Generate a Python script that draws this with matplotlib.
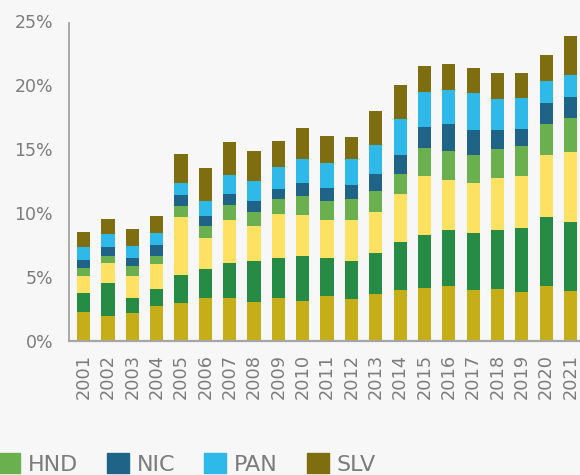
import matplotlib.pyplot as plt
from matplotlib.patches import Patch
from matplotlib.ticker import FuncFormatter

# data (shares in %)
years = [str(y) for y in range(2001, 2022)]
series = ['CRI', 'DOM', 'GTM', 'HND', 'NIC', 'PAN', 'SLV']
cri = [2.23, 1.91, 2.15, 2.70, 2.93, 3.32, 3.32, 3.01, 3.32, 3.09, 3.48,
       3.24, 3.63, 3.95, 4.10, 4.26, 3.95, 4.02, 3.79, 4.26, 3.87]
dom = [1.48, 2.58, 1.17, 1.32, 2.19, 2.27, 2.73, 3.20, 3.13, 3.51, 2.97,
       2.97, 3.21, 3.75, 4.14, 4.37, 4.45, 4.61, 5.00, 5.39, 5.39]
gtm = [1.33, 1.56, 1.72, 1.96, 4.53, 2.42, 3.36, 2.74, 3.43, 3.20, 2.96,
       3.20, 3.20, 3.75, 4.61, 3.91, 3.90, 4.07, 4.06, 4.84, 5.47]
hnd = [0.62, 0.55, 0.78, 0.62, 0.86, 0.94, 1.18, 1.09, 1.17, 1.49, 1.49,
       1.64, 1.64, 1.56, 2.19, 2.26, 2.19, 2.26, 2.35, 2.42, 2.65]
nic = [0.63, 0.70, 0.63, 0.86, 0.86, 0.78, 0.86, 0.86, 0.79, 1.01, 1.01,
       1.10, 1.33, 1.48, 1.64, 2.11, 1.96, 1.49, 1.32, 1.64, 1.64]
pan = [1.01, 1.02, 0.93, 0.94, 0.93, 1.17, 1.48, 1.56, 1.71, 1.88, 1.96,
       2.03, 2.26, 2.81, 2.73, 2.66, 2.89, 2.42, 2.43, 1.72, 1.72]
slv = [1.18, 1.17, 1.33, 1.33, 2.27, 2.58, 2.58, 2.34, 2.04, 2.42, 2.11,
       1.72, 2.66, 2.66, 2.04, 2.03, 1.95, 2.03, 1.95, 2.03, 3.05]
colors = ['#c5ae18', '#268b45', '#fde162', '#6ab04f', '#1f6387', '#2fb9e8', '#7f6e10']

bg = '#f7f7f7'
grey = '#7c7c7c'

fig = plt.figure(figsize=(5.8, 4.75), dpi=100, facecolor=bg)
ax = fig.add_axes([69/580, 134.5/475, (585.1 - 69)/580, 320/475])
ax.set_facecolor(bg)

x = range(len(years))
bottom = [0.0] * len(years)
for vals, col in zip([cri, dom, gtm, hnd, nic, pan, slv], colors):
    ax.bar(x, vals, bottom=bottom, width=0.54, color=col, linewidth=0)
    bottom = [b + v for b, v in zip(bottom, vals)]

ax.set_xlim(-0.6, 20.6)
ax.set_ylim(0, 25)
ax.set_yticks([0, 5, 10, 15, 20, 25])
ax.yaxis.set_major_formatter(FuncFormatter(lambda v, p: '%d%%' % v))
ax.set_xticks(list(x))
ax.set_xticklabels(years, rotation=90)
ax.tick_params(axis='x', length=0, pad=9.5, labelsize=12.8, labelcolor=grey)
ax.tick_params(axis='y', length=0, pad=11.5, labelsize=12.5, labelcolor=grey)

for s in ['top', 'right']:
    ax.spines[s].set_visible(False)
ax.spines['left'].set_color('#a3a3a3')
ax.spines['left'].set_linewidth(1.3)
ax.spines['left'].set_bounds(0, 24.8)
ax.spines['bottom'].set_color('#a6a6a6')
ax.spines['bottom'].set_linewidth(1.6)

# only the right part of the legend is visible in the picture
handles = [Patch(color=c) for c in colors[3:]]
fig.legend(handles, series[3:], loc='upper left',
           bbox_to_anchor=(-2.3/580, 1 - 453/475), ncol=4, frameon=False,
           fontsize=16, labelcolor=grey, handlelength=1.0, handleheight=1.0,
           handletextpad=0.35, columnspacing=1.3, borderpad=0, borderaxespad=0)

fig.savefig('out.png', dpi=100, facecolor=bg)
